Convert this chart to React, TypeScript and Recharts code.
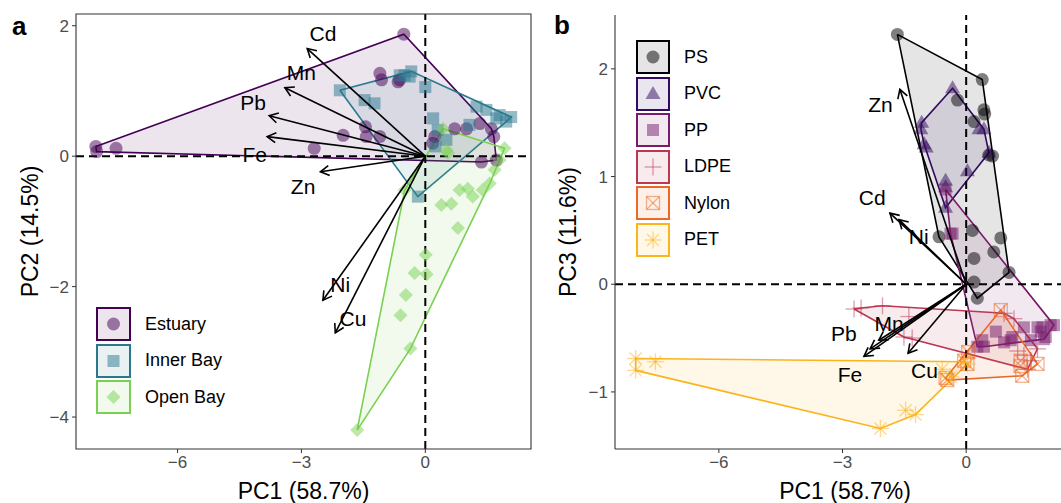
import React from 'react'
import { ScatterChart, Scatter, XAxis, YAxis, ReferenceLine, ReferenceArea, Legend } from 'recharts'

type P = [number, number]

// ---------- panel a : sampling site (PC1 vs PC2) ----------
const siteNames = ['Estuary', 'Inner Bay', 'Open Bay']
const siteColors = ['#440154', '#2A788E', '#7AD151']
const siteShapes = ['circle', 'square', 'diamond']

const estuaryPts: P[] = [
  [-7.98, 0.15], [-7.96, 0.07], [-7.49, 0.12], [-2.69, 0.12], [-1.99, 0.32], [-1.45, 0.45],
  [-1.43, 0.3], [-1.1, 0.3], [-0.52, 1.87], [-1.1, 1.27], [-1.06, 1.17], [-0.66, 1.14],
  [-0.62, 1.17], [0.23, 0.3], [0.18, 0.2], [0.71, 0.42], [1.0, 0.42], [1.32, 0.5],
  [1.6, 0.42], [1.36, -0.09], [1.72, -0.06], [1.66, 0.3],
]
const innerBayPts: P[] = [
  [-2.07, 1.01], [-1.47, 0.86], [-1.23, 0.81], [-0.62, 1.24], [-0.5, 1.24], [-0.34, 1.3],
  [-0.38, 1.22], [0.0, 1.06], [0.19, 0.58], [0.51, 0.25], [1.07, 0.48], [1.24, 0.76],
  [1.48, 0.71], [1.72, 0.58], [1.8, 0.63], [1.96, 0.53], [2.08, 0.6], [-0.18, -0.62],
  [0.25, 0.15], [0.3, 0.4],
]
const openBayPts: P[] = [
  [0.43, 0.42], [0.51, 0.09], [1.92, 0.12], [1.8, -0.06], [1.68, -0.21], [1.56, -0.42],
  [1.39, -0.52], [1.15, -0.62], [1.03, -0.5], [0.83, -0.52], [0.39, -0.75], [0.63, -0.73],
  [0.79, -1.1], [0.01, -1.51], [-0.26, -1.79], [0.03, -1.81], [-0.47, -2.13], [-0.6, -2.44],
  [-0.36, -2.95], [-1.65, -4.2], [-0.5, -0.52], [0.55, 0.05],
]
const sitePts = [estuaryPts, innerBayPts, openBayPts]

const metalsA = ['Cd', 'Mn', 'Pb', 'Fe', 'Zn', 'Ni', 'Cu']
const loadTipsA: P[] = [[-2.86, 1.65], [-3.4, 1.05], [-3.78, 0.62], [-3.83, 0.3], [-2.54, -0.24], [-2.48, -2.21], [-2.18, -2.71]]
const loadLabelsA: P[] = [[-2.48, 1.88], [-3.0, 1.29], [-4.17, 0.83], [-4.13, 0.02], [-2.96, -0.47], [-2.06, -1.96], [-1.75, -2.49]]

// ---------- panel b : polymer type (PC1 vs PC3) ----------
const polyNames = ['PS', 'PVC', 'PP', 'LDPE', 'Nylon', 'PET']
const polyColors = ['#000004', '#320A5E', '#781B6C', '#BB3754', '#EC6824', '#FBB41A']
const polyShapes = ['circle', 'triangle', 'square', 'plus', 'boxx', 'star']

const psPts: P[] = [
  [-1.67, 2.32], [0.39, 1.9], [0.43, 1.62], [0.45, 1.58], [0.19, 1.51], [0.55, 1.2], [0.64, 1.19],
  [-0.21, 1.71], [-0.66, 0.44], [0.15, 0.5], [0.84, 0.43], [0.67, 0.3], [0.19, 0.24], [1.04, 0.11],
  [0.19, 0.02], [0.27, -0.13],
]
const pvcPts: P[] = [
  [-0.33, 1.82], [-1.08, 1.5], [-1.1, 1.44], [-1.02, 1.3], [-0.97, 1.27], [0.31, 1.44], [0.43, 1.44],
  [0.55, 1.22], [0.03, 1.05], [-0.5, 0.96], [-0.5, 0.9], [-0.5, 0.71],
]
const ppPts: P[] = [
  [-0.5, 0.88], [-0.38, 0.47], [-0.33, 0.47], [0.72, -0.44], [0.39, -0.52], [0.43, -0.58], [0.27, -0.58],
  [1.08, -0.52], [1.12, -0.49], [0.92, -0.54], [1.4, -0.4], [1.57, -0.52], [1.73, -0.4], [1.81, -0.44],
  [1.85, -0.4], [1.89, -0.51], [1.93, -0.49], [2.05, -0.38], [2.13, -0.38],
]
const ldpePts: P[] = [
  [-2.72, -0.23], [-2.55, -0.22], [-2.03, -0.2], [-1.39, -0.3], [-1.51, -0.49], [-1.31, -0.5],
  [0.92, -0.27], [1.16, -0.32], [1.4, -0.66], [1.57, -0.71], [1.73, -0.6], [1.49, -0.79], [1.25, -0.62],
]
const nylonPts: P[] = [
  [0.84, -0.24], [1.32, -0.71], [1.73, -0.74], [1.36, -0.85], [1.32, -0.76], [-0.46, -0.89],
  [-0.5, -0.87], [0.05, -0.63], [0.03, -0.74], [-0.05, -0.71],
]
const petPts: P[] = [
  [-8.02, -0.69], [-8.02, -0.8], [-7.54, -0.72], [-2.08, -1.34], [-1.47, -1.17], [-1.23, -1.21],
  [-0.58, -0.79], [-0.38, -0.86], [0.03, -0.74], [-0.05, -0.72],
]
const polyPts = [psPts, pvcPts, ppPts, ldpePts, nylonPts, petPts]

const metalsB = ['Zn', 'Cd', 'Ni', 'Pb', 'Mn', 'Fe', 'Cu']
const loadTipsB: P[] = [[-1.61, 1.81], [-1.85, 0.66], [-1.63, 0.6], [-2.33, -0.6], [-2.12, -0.52], [-2.48, -0.67], [-1.41, -0.64]]
const loadLabelsB: P[] = [[-2.08, 1.67], [-2.28, 0.81], [-1.15, 0.44], [-2.97, -0.46], [-1.87, -0.36], [-2.82, -0.84], [-1.01, -0.8]]

const FONT = '"Liberation Sans", Arial, Helvetica, sans-serif'
const fmt = (v: number) => (v < 0 ? '\u2212' + Math.abs(v) : String(v))
const toXY = (pts: P[]) => pts.map(([x, y]) => ({ x, y }))

// convex hull (monotone chain), closed so the outline joins up
function hull(pts: P[]): P[] {
  const s = [...pts].sort((a, b) => a[0] - b[0] || a[1] - b[1])
  const cross = (o: P, a: P, b: P) => (a[0] - o[0]) * (b[1] - o[1]) - (a[1] - o[1]) * (b[0] - o[0])
  const lower: P[] = []
  for (const p of s) {
    while (lower.length >= 2 && cross(lower[lower.length - 2], lower[lower.length - 1], p) <= 0) lower.pop()
    lower.push(p)
  }
  const upper: P[] = []
  for (const p of [...s].reverse()) {
    while (upper.length >= 2 && cross(upper[upper.length - 2], upper[upper.length - 1], p) <= 0) upper.pop()
    upper.push(p)
  }
  upper.pop()
  lower.pop()
  const h = lower.concat(upper)
  return [...h, h[0]]
}

const Marker = ({ kind, cx, cy, color }: { kind: string; cx: number; cy: number; color: string }) => {
  const a = 0.5
  switch (kind) {
    case 'circle':
      return <circle cx={cx} cy={cy} r={6.5} fill={color} fillOpacity={a} />
    case 'square':
      return <rect x={cx - 6} y={cy - 6} width={12} height={12} fill={color} fillOpacity={a} />
    case 'diamond':
      return <polygon points={`${cx},${cy - 7} ${cx + 7},${cy} ${cx},${cy + 7} ${cx - 7},${cy}`} fill={color} fillOpacity={a} />
    case 'triangle':
      return <polygon points={`${cx},${cy - 8} ${cx + 7.5},${cy + 5} ${cx - 7.5},${cy + 5}`} fill={color} fillOpacity={a} />
    case 'plus':
      return (
        <g stroke={color} strokeOpacity={a} strokeWidth={1.3}>
          <line x1={cx - 8.5} y1={cy} x2={cx + 8.5} y2={cy} />
          <line x1={cx} y1={cy - 8.5} x2={cx} y2={cy + 8.5} />
        </g>
      )
    case 'boxx':
      return (
        <g stroke={color} strokeOpacity={a} strokeWidth={1.3} fill="none">
          <rect x={cx - 6.5} y={cy - 6.5} width={13} height={13} />
          <line x1={cx - 6.5} y1={cy - 6.5} x2={cx + 6.5} y2={cy + 6.5} />
          <line x1={cx - 6.5} y1={cy + 6.5} x2={cx + 6.5} y2={cy - 6.5} />
        </g>
      )
    default:
      return (
        <g stroke={color} strokeOpacity={a} strokeWidth={1.3}>
          <line x1={cx - 8.5} y1={cy} x2={cx + 8.5} y2={cy} />
          <line x1={cx} y1={cy - 8.5} x2={cx} y2={cy + 8.5} />
          <line x1={cx - 6} y1={cy - 6} x2={cx + 6} y2={cy + 6} />
          <line x1={cx - 6} y1={cy + 6} x2={cx + 6} y2={cy - 6} />
        </g>
      )
  }
}

// loading vector: line from origin with an open arrow head
const Arrow = (p: any) => {
  const { x1, y1, x2, y2 } = p
  const ang = Math.atan2(y2 - y1, x2 - x1)
  const L = 10
  const h = Math.PI / 6
  const a1 = `${x2 - L * Math.cos(ang - h)},${y2 - L * Math.sin(ang - h)}`
  const a2 = `${x2 - L * Math.cos(ang + h)},${y2 - L * Math.sin(ang + h)}`
  return (
    <g stroke="#000" strokeWidth={1.6} fill="none">
      <line x1={x1} y1={y1} x2={x2} y2={y2} />
      <polyline points={`${a1} ${x2},${y2} ${a2}`} />
    </g>
  )
}

const LegendBox = ({ names, colors, shapes, gap, w, h }: any) => (
  <div style={{ fontFamily: FONT, fontSize: 18, color: '#000' }}>
    {names.map((n: string, i: number) => (
      <div key={n} style={{ display: 'flex', alignItems: 'center', marginBottom: gap }}>
        <svg width={w} height={h} style={{ display: 'block' }}>
          <rect x={1} y={1} width={w - 2} height={h - 2} fill={colors[i]} fillOpacity={0.1} stroke={colors[i]} strokeWidth={2} />
          <Marker kind={shapes[i]} cx={w / 2} cy={h / 2} color={colors[i]} />
        </svg>
        <span style={{ marginLeft: 14 }}>{n}</span>
      </div>
    ))}
  </div>
)

interface PanelProps {
  groups: P[][]
  colors: string[]
  shapes: string[]
  names: string[]
  metals: string[]
  tips: P[]
  labels: P[]
  xDomain: [number, number]
  yDomain: [number, number]
  yTicks: number[]
  yTitle: string
  width: number
  top: number
  right: number
  yAxisWidth: number
  yTitleOffset: number
  boxed: boolean
  legendPos: { left: number; top: number }
  legendBox: { w: number; h: number; gap: number }
}

const Panel = (p: PanelProps) => {
  const axisLine = p.boxed ? false : { stroke: '#333', strokeWidth: 1.1 }
  return (
    <ScatterChart width={p.width} height={503} margin={{ top: p.top, right: p.right, bottom: 0, left: 0 }}>
      <XAxis
        type="number" dataKey="x" domain={p.xDomain} allowDataOverflow ticks={[-6, -3, 0]}
        tickFormatter={fmt} tick={{ fill: '#4d4d4d', fontSize: 17, fontFamily: FONT }}
        tickLine={{ stroke: '#333' }} axisLine={axisLine} tickSize={4} tickMargin={3} height={54}
        label={{ value: 'PC1 (58.7%)', position: 'insideBottom', offset: 4, fill: '#000', fontSize: 23, fontFamily: FONT }}
      />
      <YAxis
        type="number" dataKey="y" domain={p.yDomain} allowDataOverflow ticks={p.yTicks}
        tickFormatter={fmt} tick={{ fill: '#4d4d4d', fontSize: 17, fontFamily: FONT }}
        tickLine={{ stroke: '#333' }} axisLine={axisLine} tickSize={4} tickMargin={3} width={p.yAxisWidth}
        label={{ value: p.yTitle, angle: -90, position: 'insideLeft', offset: p.yTitleOffset, fill: '#000', fontSize: 23, fontFamily: FONT, style: { textAnchor: 'middle' } }}
      />

      {p.groups.map((g, i) => (
        <Scatter
          key={'hull' + i} data={toXY(hull(g))} isAnimationActive={false} zIndex={100}
          line={{ stroke: p.colors[i], strokeWidth: 1.6, fill: p.colors[i], fillOpacity: 0.1 }}
          shape={() => <g />}
        />
      ))}

      <ReferenceLine x={0} stroke="#000" strokeWidth={2} strokeDasharray="8 5" zIndex={200} />
      <ReferenceLine y={0} stroke="#000" strokeWidth={2} strokeDasharray="8 5" zIndex={200} />

      {p.groups.map((g, i) => (
        <Scatter
          key={'pts' + i} data={toXY(g)} isAnimationActive={false} zIndex={600}
          shape={(s: any) => <Marker kind={p.shapes[i]} cx={s.cx} cy={s.cy} color={p.colors[i]} />}
        />
      ))}

      {p.tips.map((t, i) => (
        <ReferenceLine key={'arr' + i} segment={[{ x: 0, y: 0 }, { x: t[0], y: t[1] }]} ifOverflow="visible" zIndex={700} shape={Arrow} />
      ))}

      <Scatter
        data={p.labels.map(([x, y], i) => ({ x, y, name: p.metals[i] }))} isAnimationActive={false} zIndex={800}
        shape={(s: any) => (
          <text x={s.cx} y={s.cy} dy="0.36em" textAnchor="middle" fontSize={21} fontFamily={FONT} fill="#000">
            {s.payload.name}
          </text>
        )}
      />

      {p.boxed && (
        <ReferenceArea
          x1={p.xDomain[0]} x2={p.xDomain[1]} y1={p.yDomain[0]} y2={p.yDomain[1]}
          ifOverflow="visible" fill="none" fillOpacity={0} stroke="#333" strokeWidth={1.1} zIndex={900}
        />
      )}

      <Legend
        layout="vertical" align="center" verticalAlign="middle"
        wrapperStyle={{ left: p.legendPos.left, top: p.legendPos.top, width: 'auto', height: 'auto' }}
        content={() => <LegendBox names={p.names} colors={p.colors} shapes={p.shapes} w={p.legendBox.w} h={p.legendBox.h} gap={p.legendBox.gap} />}
      />
    </ScatterChart>
  )
}

export default function App() {
  return (
    <div style={{ position: 'fixed', left: 0, top: 0, width: 1061, height: 503, overflow: 'hidden', background: '#fff', fontFamily: FONT }}>
      <div style={{ position: 'absolute', left: 0, top: 0 }}>
        <Panel
          groups={sitePts} colors={siteColors} shapes={siteShapes} names={siteNames}
          metals={metalsA} tips={loadTipsA} labels={loadLabelsA}
          xDomain={[-8.46, 2.56]} yDomain={[-4.49, 2.18]} yTicks={[-4, -2, 0, 2]} yTitle="PC2 (14.5%)"
          width={545} top={14} right={14} yAxisWidth={76} yTitleOffset={30} boxed
          legendPos={{ left: 96, top: 307 }} legendBox={{ w: 35, h: 34, gap: 2.7 }}
        />
      </div>
      <div style={{ position: 'absolute', left: 530, top: 0 }}>
        <Panel
          groups={polyPts} colors={polyColors} shapes={polyShapes} names={polyNames}
          metals={metalsB} tips={loadTipsB} labels={loadLabelsB}
          xDomain={[-8.52, 2.64]} yDomain={[-1.53, 2.5]} yTicks={[-1, 0, 1, 2]} yTitle="PC3 (11.6%)"
          width={545} top={15} right={0} yAxisWidth={85} yTitleOffset={38} boxed={false}
          legendPos={{ left: 106, top: 40 }} legendBox={{ w: 34, h: 34, gap: 2.6 }}
        />
      </div>
      <div style={{ position: 'absolute', left: 12, top: 11, fontSize: 26, fontWeight: 700 }}>a</div>
      <div style={{ position: 'absolute', left: 554, top: 10, fontSize: 26, fontWeight: 700 }}>b</div>
    </div>
  )
}
